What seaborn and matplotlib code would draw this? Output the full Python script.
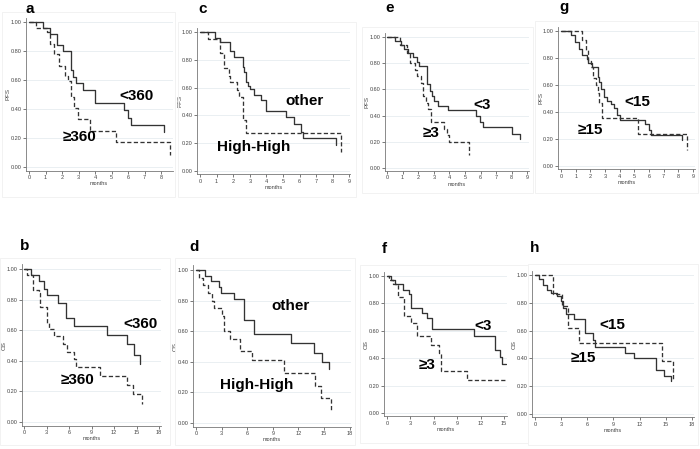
import numpy as np
import pandas as pd
import matplotlib
matplotlib.use('Agg')
import matplotlib.pyplot as plt
from matplotlib.patches import Rectangle
import seaborn as sns

# Kaplan-Meier curves: event times (months) and survival after each step
# a: PFS by <360 / >=360
a_lo_t = [0, 0.87, 1.27, 1.71, 2.04, 2.54, 2.68, 2.86, 3.25, 3.99, 5.75, 6.0, 6.2, 8.2]
a_lo_s = [1.0, 0.96, 0.92, 0.84, 0.80, 0.67, 0.62, 0.58, 0.53, 0.44, 0.39, 0.34, 0.29, 0.24]
a_hi_t = [0, 0.42, 1.07, 1.27, 1.51, 1.83, 2.18, 2.34, 2.54, 2.72, 2.94, 3.69, 5.26, 8.53]
a_hi_s = [1.0, 0.96, 0.93, 0.85, 0.78, 0.70, 0.63, 0.59, 0.48, 0.41, 0.33, 0.25, 0.17, 0.08]
# b: OS by <360 / >=360
b_lo_t = [0, 0.89, 2.0, 2.67, 3.1, 4.5, 5.66, 6.73, 11.1, 13.7, 14.6, 15.5]
b_lo_s = [1.0, 0.96, 0.92, 0.87, 0.83, 0.78, 0.68, 0.63, 0.57, 0.51, 0.44, 0.38]
b_hi_t = [0, 0.45, 1.2, 1.96, 2.18, 3.07, 3.34, 3.97, 5.17, 5.7, 6.64, 6.95, 10.16, 13.7, 14.5, 15.7]
b_hi_s = [1.0, 0.96, 0.86, 0.84, 0.75, 0.65, 0.61, 0.56, 0.51, 0.46, 0.41, 0.36, 0.30, 0.24, 0.18, 0.12]
# c: PFS other / High-High
c_lo_t = [0, 0.88, 1.18, 1.78, 2.06, 2.58, 2.68, 2.78, 2.92, 3.0, 3.26, 3.68, 3.96, 5.18, 5.66, 6.08, 6.18, 8.22]
c_lo_s = [1.0, 0.96, 0.93, 0.86, 0.82, 0.75, 0.71, 0.64, 0.61, 0.59, 0.55, 0.51, 0.43, 0.385, 0.34, 0.28, 0.24, 0.19]
c_hi_t = [0, 0.48, 1.18, 1.46, 1.72, 1.82, 2.22, 2.36, 2.58, 2.78, 8.52]
c_hi_s = [1.0, 0.95, 0.85, 0.74, 0.68, 0.64, 0.58, 0.53, 0.37, 0.27, 0.14]
# d: OS other / High-High
d_lo_t = [0, 1.0, 1.8, 2.64, 2.95, 4.43, 5.67, 6.84, 11.08, 13.8, 14.8, 15.6]
d_lo_s = [1.0, 0.96, 0.93, 0.89, 0.85, 0.81, 0.67, 0.58, 0.52, 0.46, 0.40, 0.35]
d_hi_t = [0, 0.39, 0.78, 1.36, 1.87, 2.14, 3.07, 3.23, 3.93, 5.1, 6.6, 10.3, 13.9, 14.6, 15.8]
d_hi_s = [1.0, 0.95, 0.90, 0.85, 0.80, 0.75, 0.70, 0.60, 0.55, 0.47, 0.41, 0.33, 0.245, 0.165, 0.08]
# e: PFS by <3 / >=3
e_lo_t = [0, 0.5, 0.92, 1.1, 1.35, 1.67, 1.9, 2.05, 2.58, 2.75, 2.9, 3.0, 3.28, 3.93, 5.7, 5.97, 6.18, 8.0, 8.54]
e_lo_s = [1.0, 0.97, 0.94, 0.91, 0.88, 0.85, 0.81, 0.78, 0.64, 0.59, 0.55, 0.51, 0.47, 0.44, 0.40, 0.35, 0.31, 0.26, 0.22]
e_hi_t = [0, 0.86, 1.25, 1.46, 1.78, 1.95, 2.15, 2.32, 2.49, 2.64, 2.79, 3.67, 3.82, 3.99, 5.26]
e_hi_s = [1.0, 0.94, 0.88, 0.80, 0.75, 0.70, 0.65, 0.55, 0.50, 0.45, 0.35, 0.30, 0.25, 0.20, 0.10]
# f: OS by <3 / >=3
f_lo_t = [0, 0.55, 0.98, 2.04, 2.76, 3.1, 4.46, 5.1, 5.74, 11.1, 13.8, 14.45, 14.8, 15.3]
f_lo_s = [1.0, 0.97, 0.94, 0.90, 0.87, 0.77, 0.73, 0.69, 0.61, 0.56, 0.46, 0.41, 0.36, 0.36]
f_hi_t = [0, 0.3, 0.72, 1.4, 2.2, 3.1, 3.83, 5.6, 6.7, 6.9, 10.3, 15.3]
f_hi_s = [1.0, 0.97, 0.94, 0.85, 0.71, 0.66, 0.56, 0.50, 0.44, 0.31, 0.24, 0.24]
# g: PFS by <15 / >=15
g_lo_t = [0, 0.66, 0.96, 1.23, 1.41, 1.75, 1.87, 2.1, 2.5, 2.6, 2.73, 2.9, 3.12, 3.42, 3.64, 3.83, 4.0, 5.7, 6.0, 6.15, 8.25]
g_lo_s = [1.0, 0.97, 0.92, 0.87, 0.82, 0.79, 0.76, 0.73, 0.66, 0.62, 0.57, 0.51, 0.48, 0.46, 0.43, 0.38, 0.34, 0.31, 0.27, 0.23, 0.19]
g_hi_t = [0, 1.46, 1.7, 1.82, 2.05, 2.2, 2.4, 2.5, 2.62, 2.82, 5.28, 8.59]
g_hi_s = [1.0, 0.93, 0.86, 0.78, 0.73, 0.65, 0.60, 0.54, 0.47, 0.355, 0.24, 0.12]
# h: OS by <15 / >=15
h_lo_t = [0, 0.46, 0.96, 1.34, 1.8, 2.57, 2.99, 3.26, 3.52, 4.48, 5.75, 6.7, 6.9, 10.3, 11.3, 13.9, 14.8, 15.6]
h_lo_s = [1.0, 0.97, 0.93, 0.89, 0.87, 0.85, 0.81, 0.76, 0.72, 0.68, 0.58, 0.53, 0.48, 0.44, 0.40, 0.32, 0.27, 0.235]
h_hi_t = [0, 2.03, 3.1, 3.83, 5.06, 14.56, 15.8]
h_hi_s = [1.0, 0.86, 0.78, 0.62, 0.51, 0.38, 0.25]

pfs_ticks = list(range(0, 10))
os_ticks = list(range(0, 19, 3))
y_ticks = [0.0, 0.2, 0.4, 0.6, 0.8, 1.0]

# layout in pixels: x of month 0, px per month, xlim, y of 1.0, y of 0.0
panels = [
    dict(k='a', lo=(a_lo_t, a_lo_s), hi=(a_hi_t, a_hi_s), yl='PFS', x0=29, ppm=16.5, xlim=(-0.2, 8.7),
         y1=22, y0=167, xt=pfs_ticks[:9], lbl=('<360', '≥360'), lpos=((136, 96), (80, 137)),
         kpos=(29.5, 13), frame=(2, 12, 173, 185)),
    dict(k='c', lo=(c_lo_t, c_lo_s), hi=(c_hi_t, c_hi_s), yl='PFS', x0=200, ppm=16.6, xlim=(-0.18, 9.05),
         y1=32, y0=171, xt=pfs_ticks, lbl=('other', 'High-High'), lpos=((304, 101), (254, 147)),
         kpos=(203, 13), frame=(178, 22, 178, 175)),
    dict(k='e', lo=(e_lo_t, e_lo_s), hi=(e_hi_t, e_hi_s), yl='PFS', x0=387, ppm=15.6, xlim=(-0.13, 9.1),
         y1=37, y0=168, xt=pfs_ticks, lbl=('<3', '≥3'), lpos=((482, 105), (431, 133)),
         kpos=(390, 12.5), frame=(362, 27, 171, 166)),
    dict(k='g', lo=(g_lo_t, g_lo_s), hi=(g_hi_t, g_hi_s), yl='PFS', x0=561, ppm=14.67, xlim=(-0.2, 9.13),
         y1=31, y0=166, xt=pfs_ticks, lbl=('<15', '≥15'), lpos=((637, 102), (590, 130)),
         kpos=(564.5, 11.5), frame=(535, 21, 163, 172)),
    dict(k='b', lo=(b_lo_t, b_lo_s), hi=(b_hi_t, b_hi_s), yl='OS', x0=24, ppm=7.5, xlim=(-0.27, 18.27),
         y1=269, y0=422, xt=os_ticks, lbl=('<360', '≥360'), lpos=((141, 324), (78, 380)),
         kpos=(25, 250), frame=(0, 258, 170, 187)),
    dict(k='d', lo=(d_lo_t, d_lo_s), hi=(d_hi_t, d_hi_s), yl='OS', x0=196, ppm=8.53, xlim=(-0.35, 18.2),
         y1=270, y0=423, xt=os_ticks, lbl=('other', 'High-High'), lpos=((291, 306), (257, 385)),
         kpos=(194.5, 251), frame=(175, 258, 180, 187)),
    dict(k='f', lo=(f_lo_t, f_lo_s), hi=(f_hi_t, f_hi_s), yl='OS', x0=387, ppm=7.8, xlim=(-0.38, 15.4),
         y1=276, y0=413, xt=os_ticks[:6], lbl=('<3', '≥3'), lpos=((483, 326), (427, 365)),
         kpos=(384, 253), frame=(360, 265, 168, 178)),
    dict(k='h', lo=(h_lo_t, h_lo_s), hi=(h_hi_t, h_hi_s), yl='OS', x0=535, ppm=8.72, xlim=(-0.34, 18.2),
         y1=275, y0=414, xt=os_ticks, lbl=('<15', '≥15'), lpos=((612, 325), (583, 358)),
         kpos=(534.5, 252), frame=(528, 264, 170, 181)),
]

sns.set_theme(style='white')
plt.rcParams['font.family'] = ['Liberation Sans', 'DejaVu Sans']

W, H = 700, 449
fig = plt.figure(figsize=(W / 100, H / 100), dpi=100)
ylim = (-0.025, 1.03)
line_col = '#333333'

for p in panels:
    # faint panel frame
    fx, fy, fw, fh = p['frame']
    fig.add_artist(Rectangle((fx / W, 1 - (fy + fh) / H), fw / W, fh / H, transform=fig.transFigure,
                             fill=False, ec='#f2f2f2', lw=0.7))

    s = p['y0'] - p['y1']
    left = p['x0'] + p['xlim'][0] * p['ppm']
    right = p['x0'] + p['xlim'][1] * p['ppm']
    top = p['y1'] - (ylim[1] - 1) * s
    bottom = p['y0'] - ylim[0] * s
    ax = fig.add_axes([left / W, 1 - bottom / H, (right - left) / W, (bottom - top) / H])

    df = pd.concat([
        pd.DataFrame({'months': p['lo'][0], 'surv': p['lo'][1], 'grp': 'lo'}),
        pd.DataFrame({'months': p['hi'][0], 'surv': p['hi'][1], 'grp': 'hi'}),
    ], ignore_index=True)
    sns.lineplot(data=df, x='months', y='surv', style='grp', dashes={'lo': '', 'hi': (3.2, 1.8)},
                 estimator=None, sort=False, drawstyle='steps-post', color=line_col, lw=0.95,
                 legend=False, ax=ax)

    ax.set_xlim(*p['xlim'])
    ax.set_ylim(*ylim)
    ax.set_xticks(p['xt'])
    ax.set_yticks(y_ticks)
    ax.set_yticklabels([f'{v:.2f}' for v in y_ticks])
    ax.set_facecolor('none')
    for side in ['top', 'right']:
        ax.spines[side].set_visible(False)
    for side in ['left', 'bottom']:
        ax.spines[side].set_color('#777777')
        ax.spines[side].set_linewidth(0.6)
    ax.tick_params(axis='both', labelsize=4, length=2, width=0.5, pad=1, colors='#444444',
                   bottom=True, left=True)
    ax.yaxis.grid(True, color='#e6ecf0', lw=0.6)
    ax.xaxis.grid(False)
    ax.set_xlabel('months', fontsize=4, labelpad=1, color='#444444')
    ax.set_ylabel(p['yl'], fontsize=4.5, color='#444444')
    ax.yaxis.set_label_coords(-15 / (right - left), 0.5)

    for txt, (tx, ty) in zip(p['lbl'], p['lpos']):
        fig.text(tx / W, 1 - ty / H, txt, ha='center', va='center', fontsize=11,
                 fontweight='bold', color='black')
    kx, ky = p['kpos']
    fig.text(kx / W, 1 - ky / H, p['k'], ha='center', va='baseline', fontsize=11,
             fontweight='bold', color='black')

fig.savefig('out.png', dpi=100)
